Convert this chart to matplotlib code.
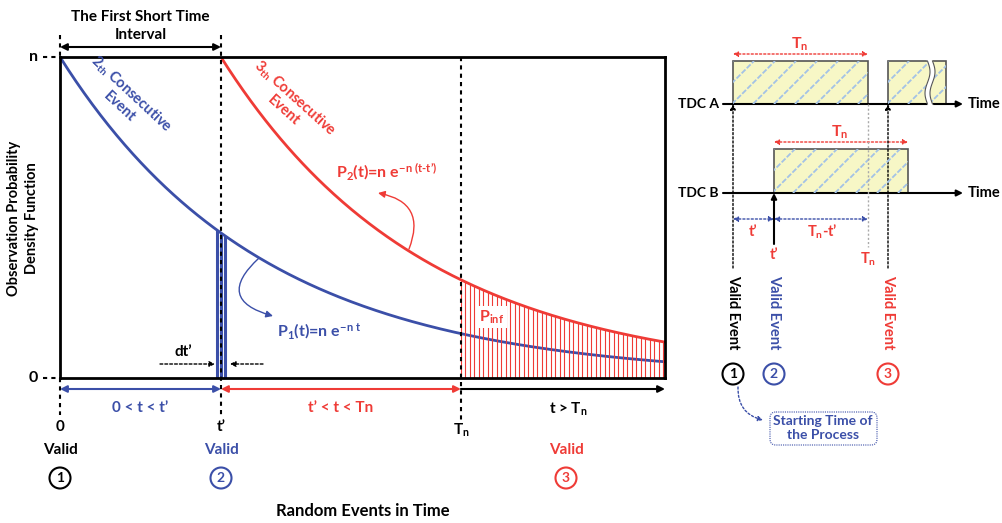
import numpy as np
import matplotlib.pyplot as plt
from matplotlib.patches import Rectangle, Circle, FancyArrowPatch, FancyBboxPatch

plt.rcParams['font.family'] = ['Lato', 'DejaVu Sans']
plt.rcParams['font.weight'] = 'bold'
plt.rcParams['mathtext.fontset'] = 'custom'
plt.rcParams['mathtext.rm'] = 'Lato:bold'
plt.rcParams['mathtext.it'] = 'Lato:bold'
plt.rcParams['mathtext.bf'] = 'Lato:bold'

BLUE = '#3b4fa8'
RED = '#ef3b36'

# valeurs (unite : t')
t_prime = 1.0
T_n = 2.49
t_end = 3.76
decay = 0.794          # pente de l'exponentielle
hatch_step = 0.028     # pas des traits rouges (P_inf)
bar_offsets = [-0.025, 0.0, 0.025]

# courbes P1 et P2
t1 = np.linspace(0, t_end, 300)
p1 = np.exp(-decay * t1)
t2 = np.linspace(t_prime, t_end, 300)
p2 = np.exp(-decay * (t2 - t_prime))

fig = plt.figure(figsize=(10.02, 5.23), dpi=100)

# axes principal (pixels 60..665 x 57..378)
ax = fig.add_axes([60 / 1002, (523 - 378) / 523, 605 / 1002, 321 / 523])
ax.set_xlim(0, t_end)
ax.set_ylim(0, 1)
ax.set_xticks([])
ax.set_yticks([])
for s in ax.spines.values():
    s.set_linewidth(2)

ax.plot(t1, p1, color=BLUE, lw=2)
ax.plot(t2, p2, color=RED, lw=2)

# zone hachuree P_inf
xs = np.arange(T_n, t_end, hatch_step)
ax.vlines(xs, 0, np.exp(-decay * (xs - t_prime)), color=RED, lw=0.8)
# barre dt'
xb = t_prime + np.array(bar_offsets)
ax.vlines(xb, 0, np.exp(-decay * xb), color=BLUE, lw=2.2)

# calque en pixels pour les annotations
ov = fig.add_axes([0, 0, 1, 1], zorder=5)
ov.set_xlim(0, 1002)
ov.set_ylim(523, 0)
ov.axis('off')


def px(x):
    return 60 + x * 161


x0, x1, x2 = px(0), px(t_prime), px(T_n)

# lignes pointillees verticales
ov.plot([x0, x0], [35, 57], 'k', ls=(0, (2, 2)), lw=1.5)
ov.plot([x0, x0], [378, 415], 'k', ls=(0, (2, 2)), lw=1.5)
ov.plot([x1, x1], [35, 415], 'k', ls=(0, (2, 2)), lw=1.5)
ov.plot([x2, x2], [57, 420], 'k', ls=(0, (2, 2)), lw=1.5)
ov.plot([43, 58], [57, 57], 'k', ls=(0, (2, 2)), lw=1.5)
ov.plot([43, 58], [378, 378], 'k', ls=(0, (2, 2)), lw=1.5)
ov.text(38, 57, 'n', ha='right', va='center', fontsize=11.5)
ov.text(38, 378, '0', ha='right', va='center', fontsize=11.5)


def arrow(a, b, color='k', style='<|-|>', lw=1.5, ls='-', ms=10, cs='arc3'):
    ov.add_patch(FancyArrowPatch(a, b, arrowstyle=style, color=color, lw=lw,
                                 ls=ls, mutation_scale=ms, connectionstyle=cs,
                                 shrinkA=0, shrinkB=0))


arrow((x0, 47), (x1, 47))
ov.text((x0 + x1) / 2, 26, 'The First Short Time\nInterval', ha='center', va='center',
        fontsize=11, linespacing=1.3)

# fleches sous l'axe
arrow((x0, 389), (x1, 389), color=BLUE)
arrow((x1, 389), (x2, 389), color=RED)
arrow((x2, 389), (665, 389), color='k', style='-|>')
ov.text((x0 + x1) / 2, 408, '0 < t < t’', color=BLUE, ha='center', va='center', fontsize=11)
ov.text((x1 + x2) / 2, 408, 't’ < t < Tn', color=RED, ha='center', va='center', fontsize=11)
ov.text(568, 409, r't > T$_\mathrm{n}$', color='k', ha='center', va='center', fontsize=11)

# reperes du bas
ov.text(x0, 427, '0', ha='center', va='center', fontsize=11)
ov.text(x1, 427, 't’', ha='center', va='center', fontsize=11)
ov.text(x2, 430, r'T$_\mathrm{n}$', ha='center', va='center', fontsize=11)
for x, c, lab in [(x0, 'k', '1'), (x1, BLUE, '2'), (566, RED, '3')]:
    ov.text(x, 450, 'Valid', color=c, ha='center', va='center', fontsize=11)
    ov.add_patch(Circle((x, 478), 10.5, fill=False, ec=c, lw=1.5))
    ov.text(x, 478, lab, color=c, ha='center', va='center', fontsize=10)
ov.text(363, 511, 'Random Events in Time', ha='center', va='center', fontsize=12)
ov.text(23, 218, 'Observation Probability\nDensity Function', rotation=90,
        ha='center', va='center', fontsize=10.5, linespacing=1.3)

# textes des courbes
ov.text(126, 100, r'2$_\mathrm{th}$ Consecutive' + '\nEvent', color=BLUE, rotation=-43,
        ha='center', va='center', fontsize=10.5, linespacing=1.1)
ov.text(290, 104, r'3$_\mathrm{th}$ Consecutive' + '\nEvent', color=RED, rotation=-42,
        ha='center', va='center', fontsize=10.5, linespacing=1.1)
ov.text(387, 172, r"P$_\mathrm{2}$(t)=n e$^{\mathrm{-n\ (t\text{-}t’)}}$", color=RED,
        ha='center', va='center', fontsize=11.5)
ov.text(319, 331, r'P$_\mathrm{1}$(t)=n e$^{\mathrm{-n\ t}}$', color=BLUE,
        ha='center', va='center', fontsize=11.5)
ov.text(492, 317, r'P$_\mathrm{inf}$', color=RED, ha='center', va='center', fontsize=11.5,
        bbox=dict(fc='white', ec='none', pad=2))
arrow((409, 249), (378, 193), color=RED, style='-|>', lw=1, cs='arc3,rad=0.6')
arrow((259, 258), (273, 316), color=BLUE, style='-|>', lw=1, cs='arc3,rad=0.9')

ov.text(183, 352, 'dt’', ha='center', va='center', fontsize=11)
arrow((160, 364), (215, 364), style='-|>', lw=1, ls=(0, (2, 1.5)), ms=8)
arrow((263, 364), (230, 364), style='-|>', lw=1, ls=(0, (2, 1.5)), ms=8)

# ---- schema de droite : TDC A / TDC B ----
YA, YB = 104, 193
YEL = '#f7f7c6'
HB = '#a3c2e6'
stripe_gap = 21


def box(xa, xb, ytop, ybot):
    bg = Rectangle((xa, ytop), xb - xa, ybot - ytop, fc=YEL, ec='none')
    ov.add_patch(bg)
    h = ybot - ytop
    for s in np.arange(xa - h, xb + stripe_gap, stripe_gap):
        ln, = ov.plot([s, s + h], [ybot, ytop], color=HB, lw=1.3, ls=(0, (3, 1)))
        ln.set_clip_path(bg)
    ov.add_patch(Rectangle((xa, ytop), xb - xa, h, fill=False, ec='#555555', lw=1.2))


box(733, 868, 61, YA)
box(888, 946, 61, YA)
wy = np.linspace(61, YA, 40)
wx = 930 + 2.5 * np.sin((wy - 61) / 43 * 2 * np.pi)
ov.plot(wx, wy, color='white', lw=4)
ov.plot(wx - 2.5, wy, color='#555555', lw=0.8)
ov.plot(wx + 2.5, wy, color='#555555', lw=0.8)
box(774, 908, 149, YB)

for y, lab in [(YA, 'TDC A'), (YB, 'TDC B')]:
    arrow((723, y), (963, y), style='-|>', lw=1.5, ms=9)
    ov.text(719, y, lab, ha='right', va='center', fontsize=10)
    ov.text(968, y, 'Time', ha='left', va='center', fontsize=10.5)

arrow((733, 54), (868, 54), color=RED, lw=1, ls=(0, (1.5, 1.5)), ms=7)
ov.text(800, 44, r'T$_\mathrm{n}$', color=RED, ha='center', va='center', fontsize=11.5)
arrow((774, 142), (908, 142), color=RED, lw=1, ls=(0, (1.5, 1.5)), ms=7)
ov.text(840, 132, r'T$_\mathrm{n}$', color=RED, ha='center', va='center', fontsize=11.5)

arrow((733, 268), (733, YA), style='-|>', lw=1, ls=(0, (1.5, 1.5)), ms=8)
arrow((888, 268), (888, YA), style='-|>', lw=1, ls=(0, (1.5, 1.5)), ms=8)
arrow((774, 244), (774, YB), style='-|>', lw=1.5, ms=8)
ov.plot([868, 868], [YA, 247], color='#aaaaaa', ls=(0, (1.5, 1.5)), lw=1)

arrow((733, 219), (774, 219), color=BLUE, lw=1, ls=(0, (1.5, 1.5)), ms=7)
arrow((774, 219), (868, 219), color=BLUE, lw=1, ls=(0, (1.5, 1.5)), ms=7)
ov.text(753, 232, 't’', color=RED, ha='center', va='center', fontsize=10.5)
ov.text(822, 232, r'T$_\mathrm{n}$-t’', color=RED, ha='center', va='center', fontsize=10.5)
ov.text(774, 255, 't’', color=RED, ha='center', va='center', fontsize=10.5)
ov.text(868, 259, r'T$_\mathrm{n}$', color=RED, ha='center', va='center', fontsize=10.5)

for x, c, lab in [(733, 'k', '1'), (774, BLUE, '2'), (888, RED, '3')]:
    ov.text(x, 312, 'Valid Event', color=c, rotation=-90, ha='center', va='center', fontsize=10.5)
    ov.add_patch(Circle((x, 374), 10.5, fill=False, ec=c, lw=1.5))
    ov.text(x, 374, lab, color=c, ha='center', va='center', fontsize=10)

arrow((738, 387), (763, 420), color=BLUE, style='-|>', lw=1, ls=(0, (1.5, 1.5)),
      ms=7, cs='arc3,rad=0.4')
ov.add_patch(FancyBboxPatch((770, 412), 107, 33, boxstyle='round,pad=0,rounding_size=6',
                            fill=False, ec=BLUE, lw=0.8, ls=(0, (1, 1))))
ov.text(823, 428, 'Starting Time of\nthe Process', color=BLUE, ha='center', va='center',
        fontsize=10, linespacing=1.2)

fig.savefig('out.png', dpi=100)
